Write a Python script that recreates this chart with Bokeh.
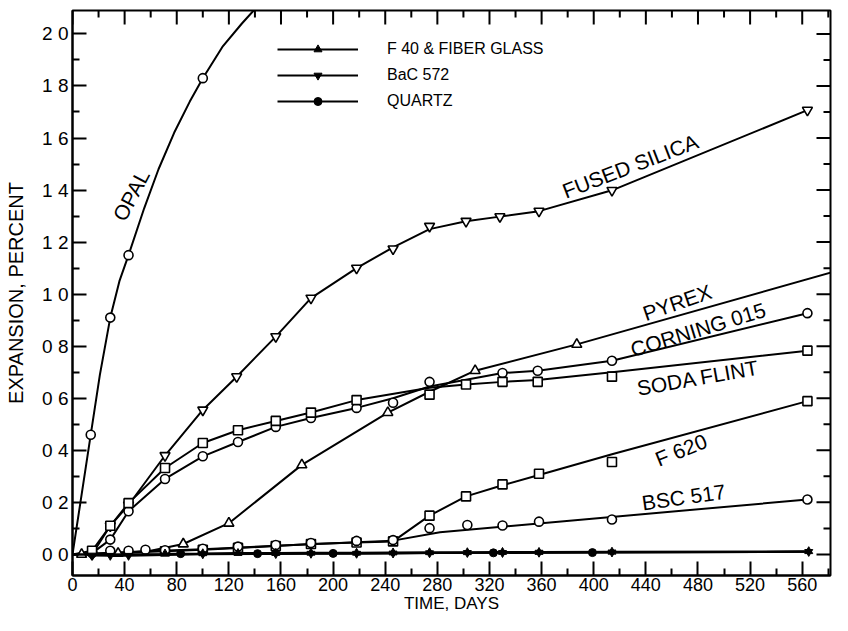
import math
from bokeh.plotting import figure
from bokeh.models import Range1d, FixedTicker, Legend, LegendItem
from bokeh.core.properties import value
from bokeh.embed import file_html
from bokeh.resources import INLINE

# ---------------- data (days, percent expansion) ----------------
opal_days = [14, 29, 43, 100]
opal_pct = [0.46, 0.91, 1.15, 1.83]
opal_curve_days = [0, 14, 21, 29, 36, 43, 55, 66, 78, 90, 100, 115, 130, 139]
opal_curve_pct = [0, 0.46, 0.69, 0.91, 1.05, 1.15, 1.33, 1.48, 1.62, 1.74, 1.83, 1.95, 2.04, 2.09]

fused_days = [15, 29, 43, 71, 100, 126, 156, 183, 218, 246, 274, 302, 328, 358, 414, 564]
fused_pct = [0.0, 0.11, 0.19, 0.38, 0.555, 0.683, 0.837, 0.985, 1.10, 1.174, 1.261, 1.28, 1.298, 1.319, 1.399, 1.707]
fused_curve_days = [0, 15, 29, 43, 71, 100, 126, 156, 183, 218, 246, 274, 302, 328, 358, 414, 564]
fused_curve_pct = [0, 0.0, 0.11, 0.19, 0.38, 0.555, 0.683, 0.837, 0.985, 1.10, 1.18, 1.25, 1.28, 1.298, 1.319, 1.399, 1.707]

corning_days = [15, 29, 43, 71, 100, 127, 156, 183, 218, 246, 274, 330, 357, 414, 564]
corning_pct = [0.005, 0.057, 0.166, 0.29, 0.377, 0.432, 0.49, 0.524, 0.563, 0.583, 0.663, 0.697, 0.706, 0.744, 0.927]
corning_curve_days = [0, 15, 29, 43, 71, 100, 127, 156, 183, 218, 246, 274, 330, 357, 414, 564]
corning_curve_pct = [0, 0.005, 0.057, 0.166, 0.29, 0.377, 0.432, 0.49, 0.524, 0.563, 0.60, 0.645, 0.697, 0.706, 0.744, 0.927]

soda_days = [15, 29, 43, 71, 100, 127, 156, 183, 218, 274, 302, 330, 357, 414, 564]
soda_pct = [0.014, 0.11, 0.197, 0.332, 0.428, 0.477, 0.513, 0.545, 0.593, 0.614, 0.653, 0.663, 0.663, 0.683, 0.783]
soda_curve_days = [0, 15, 29, 43, 71, 100, 127, 156, 183, 218, 274, 302, 330, 357, 414, 564]
soda_curve_pct = [0, 0.014, 0.11, 0.197, 0.332, 0.428, 0.477, 0.513, 0.545, 0.593, 0.64, 0.653, 0.663, 0.67, 0.70, 0.783]

pyrex_days = [7, 35, 85, 120, 176, 242, 309, 387]
pyrex_pct = [0.0, 0.004, 0.04, 0.12, 0.344, 0.545, 0.706, 0.807]
pyrex_curve_days = [0, 7, 35, 60, 85, 120, 176, 242, 274, 309, 387, 596]
pyrex_curve_pct = [0, 0.0, 0.004, 0.014, 0.04, 0.12, 0.344, 0.545, 0.625, 0.706, 0.807, 1.103]

f620_days = [71, 100, 127, 156, 183, 218, 246, 274, 302, 330, 358, 414, 564]
f620_pct = [0.012, 0.018, 0.025, 0.032, 0.04, 0.046, 0.05, 0.149, 0.223, 0.269, 0.31, 0.355, 0.589]
f620_curve_days = [0, 71, 100, 127, 156, 183, 218, 246, 274, 302, 330, 358, 414, 564]
f620_curve_pct = [0, 0.012, 0.018, 0.025, 0.032, 0.04, 0.046, 0.05, 0.149, 0.223, 0.266, 0.305, 0.385, 0.589]

bsc_days = [29, 43, 56, 71, 100, 127, 156, 183, 218, 246, 274, 303, 330, 358, 414, 564]
bsc_pct = [0.014, 0.014, 0.018, 0.016, 0.022, 0.03, 0.036, 0.044, 0.052, 0.055, 0.101, 0.113, 0.111, 0.126, 0.134, 0.211]
bsc_curve_days = [0, 29, 56, 100, 156, 218, 246, 282, 564]
bsc_curve_pct = [0, 0.006, 0.012, 0.02, 0.033, 0.047, 0.053, 0.085, 0.211]

quartz_days = [83, 142, 200, 323, 399]
quartz_pct = [0.003, 0.003, 0.004, 0.006, 0.007]
quartz_curve_days = [0, 565]
quartz_curve_pct = [0, 0.01]

bac_days = [15, 29, 43, 100, 156, 183, 218, 246, 274, 303, 330, 358, 414, 565]
bac_pct = [-0.004, -0.005, -0.005, 0.001, 0.002, 0.003, 0.003, 0.004, 0.005, 0.006, 0.006, 0.007, 0.008, 0.01]

f40_days = [71, 100, 127, 156, 183, 218, 246, 274, 303, 330, 358, 414, 565]
f40_pct = [0.003, 0.004, 0.005, 0.005, 0.006, 0.006, 0.007, 0.008, 0.008, 0.009, 0.009, 0.01, 0.012]

x_ticks = [0, 40, 80, 120, 160, 200, 240, 280, 320, 360, 400, 440, 480, 520, 560]
x_minor = [20, 60, 100, 140, 180, 220, 260, 300, 340, 380, 420, 460, 500, 540, 580]
y_ticks = [0.0, 0.2, 0.4, 0.6, 0.8, 1.0, 1.2, 1.4, 1.6, 1.8, 2.0]
y_tick_labels = ["0 0", "0 2", "0 4", "0 6", "0 8", "1 0", "1 2", "1 4", "1 6", "1 8", "2 0"]
y_minor = [0.1, 0.3, 0.5, 0.7, 0.9, 1.1, 1.3, 1.5, 1.7, 1.9]

curve_names = ["OPAL", "FUSED SILICA", "PYREX", "CORNING 015", "SODA FLINT", "F 620", "BSC 517"]
legend_names = ["F 40 & FIBER GLASS", "BaC 572", "QUARTZ"]

# ---------------- figure ----------------
FONT = "Liberation Sans"
X_END = 581.7
Y_START, Y_END = -0.081, 2.09
p = figure(width=832, height=615, x_range=Range1d(0, X_END), y_range=Range1d(Y_START, Y_END),
           output_backend="svg", toolbar_location=None,
           min_border_left=72, min_border_top=10, min_border_right=2, min_border_bottom=37)
p.xgrid.visible = False
p.ygrid.visible = False
p.outline_line_color = "black"
p.outline_line_width = 2
p.background_fill_color = "white"
p.border_fill_color = "white"

def style_axis(ax, size):
    ax.major_tick_in = 14
    ax.major_tick_out = 0
    ax.minor_tick_in = 7
    ax.minor_tick_out = 0
    ax.axis_line_width = 2
    ax.major_tick_line_width = 2
    ax.minor_tick_line_width = 2
    ax.axis_line_color = "black"
    ax.major_tick_line_color = "black"
    ax.minor_tick_line_color = "black"
    ax.major_label_text_font = FONT
    ax.major_label_text_font_size = size
    ax.major_label_text_color = "black"
    ax.axis_label_text_font = FONT
    ax.axis_label_text_font_style = "normal"
    ax.axis_label_text_color = "black"

xax = p.xaxis[0]
xax.ticker = FixedTicker(ticks=x_ticks, minor_ticks=x_minor)
style_axis(xax, "18px")
xax.major_label_standoff = 2
xax.axis_label = "TIME, DAYS"
xax.axis_label_text_font_size = "17px"
xax.axis_label_standoff = 0

yax = p.yaxis[0]
yax.ticker = FixedTicker(ticks=y_ticks, minor_ticks=y_minor)
yax.major_label_overrides = {t: l for t, l in zip(y_ticks, y_tick_labels)}
style_axis(yax, "19px")
yax.major_label_standoff = 4
yax.axis_label = "EXPANSION, PERCENT"
yax.axis_label_text_font_size = "20px"
yax.axis_label_standoff = 12

# inward ticks on the top and right frame edges (mirrors of the axes)
tick_kw = dict(marker="dash", line_color="black", line_width=2)
p.scatter(x_ticks, [Y_END] * len(x_ticks), size=28, angle=math.pi / 2, **tick_kw)
p.scatter(x_minor, [Y_END] * len(x_minor), size=14, angle=math.pi / 2, **tick_kw)
p.scatter([X_END] * len(y_ticks), y_ticks, size=28, **tick_kw)
p.scatter([X_END] * len(y_minor), y_minor, size=14, **tick_kw)

LW = 2
# fitted curves
for cd, cv in [(opal_curve_days, opal_curve_pct), (fused_curve_days, fused_curve_pct),
               (corning_curve_days, corning_curve_pct), (soda_curve_days, soda_curve_pct),
               (pyrex_curve_days, pyrex_curve_pct), (f620_curve_days, f620_curve_pct),
               (bsc_curve_days, bsc_curve_pct)]:
    p.line(cd, cv, line_color="black", line_width=LW, line_join="round")

# open markers
open_kw = dict(fill_color="white", line_color="black", line_width=1.6)
p.scatter(opal_days, opal_pct, marker="circle", size=9, **open_kw)
p.scatter(fused_days, fused_pct, marker="inverted_triangle", size=10, **open_kw)
p.scatter(corning_days, corning_pct, marker="circle", size=9, **open_kw)
p.scatter(soda_days, soda_pct, marker="square", size=9, **open_kw)
p.scatter(pyrex_days, pyrex_pct, marker="triangle", size=10, **open_kw)
p.scatter(f620_days, f620_pct, marker="square", size=9, **open_kw)
p.scatter(bsc_days, bsc_pct, marker="circle", size=9, **open_kw)

# near-zero filled series (legend)
f40_line = p.line(f40_days, f40_pct, line_color="black", line_width=LW)
bac_line = p.line(bac_days, bac_pct, line_color="black", line_width=LW)
quartz_line = p.line(quartz_curve_days, quartz_curve_pct, line_color="black", line_width=LW)
f40_pts = p.scatter(f40_days, f40_pct, marker="triangle", size=8, fill_color="black", line_color="black")
bac_pts = p.scatter(bac_days, bac_pct, marker="inverted_triangle", size=8, fill_color="black", line_color="black")
quartz_pts = p.scatter(quartz_days, quartz_pct, marker="circle", size=8, fill_color="black", line_color="black")

legend = Legend(items=[LegendItem(label=legend_names[0], renderers=[f40_line, f40_pts]),
                       LegendItem(label=legend_names[1], renderers=[bac_line, bac_pts]),
                       LegendItem(label=legend_names[2], renderers=[quartz_line, quartz_pts])],
                location=(205, 464), glyph_width=81, glyph_height=20, label_height=20,
                label_standoff=29, spacing=6, padding=0, margin=0,
                border_line_alpha=0, background_fill_alpha=0,
                label_text_font=FONT, label_text_font_size="16px", label_text_color="black")
p.add_layout(legend)

# curve labels
label_x = [45, 428, 464, 480, 480, 467, 469]
label_y = [1.38, 1.492, 0.968, 0.864, 0.679, 0.401, 0.22]
label_angle = [62, 21, 19, 17, 10, 22, 8]
p.text(x=label_x, y=label_y, text=curve_names, angle=label_angle, angle_units="deg",
       text_font=value(FONT), text_font_size="21px", text_align="center",
       text_baseline="middle", text_color="black")

open("out.html", "w").write(file_html(p, INLINE))
